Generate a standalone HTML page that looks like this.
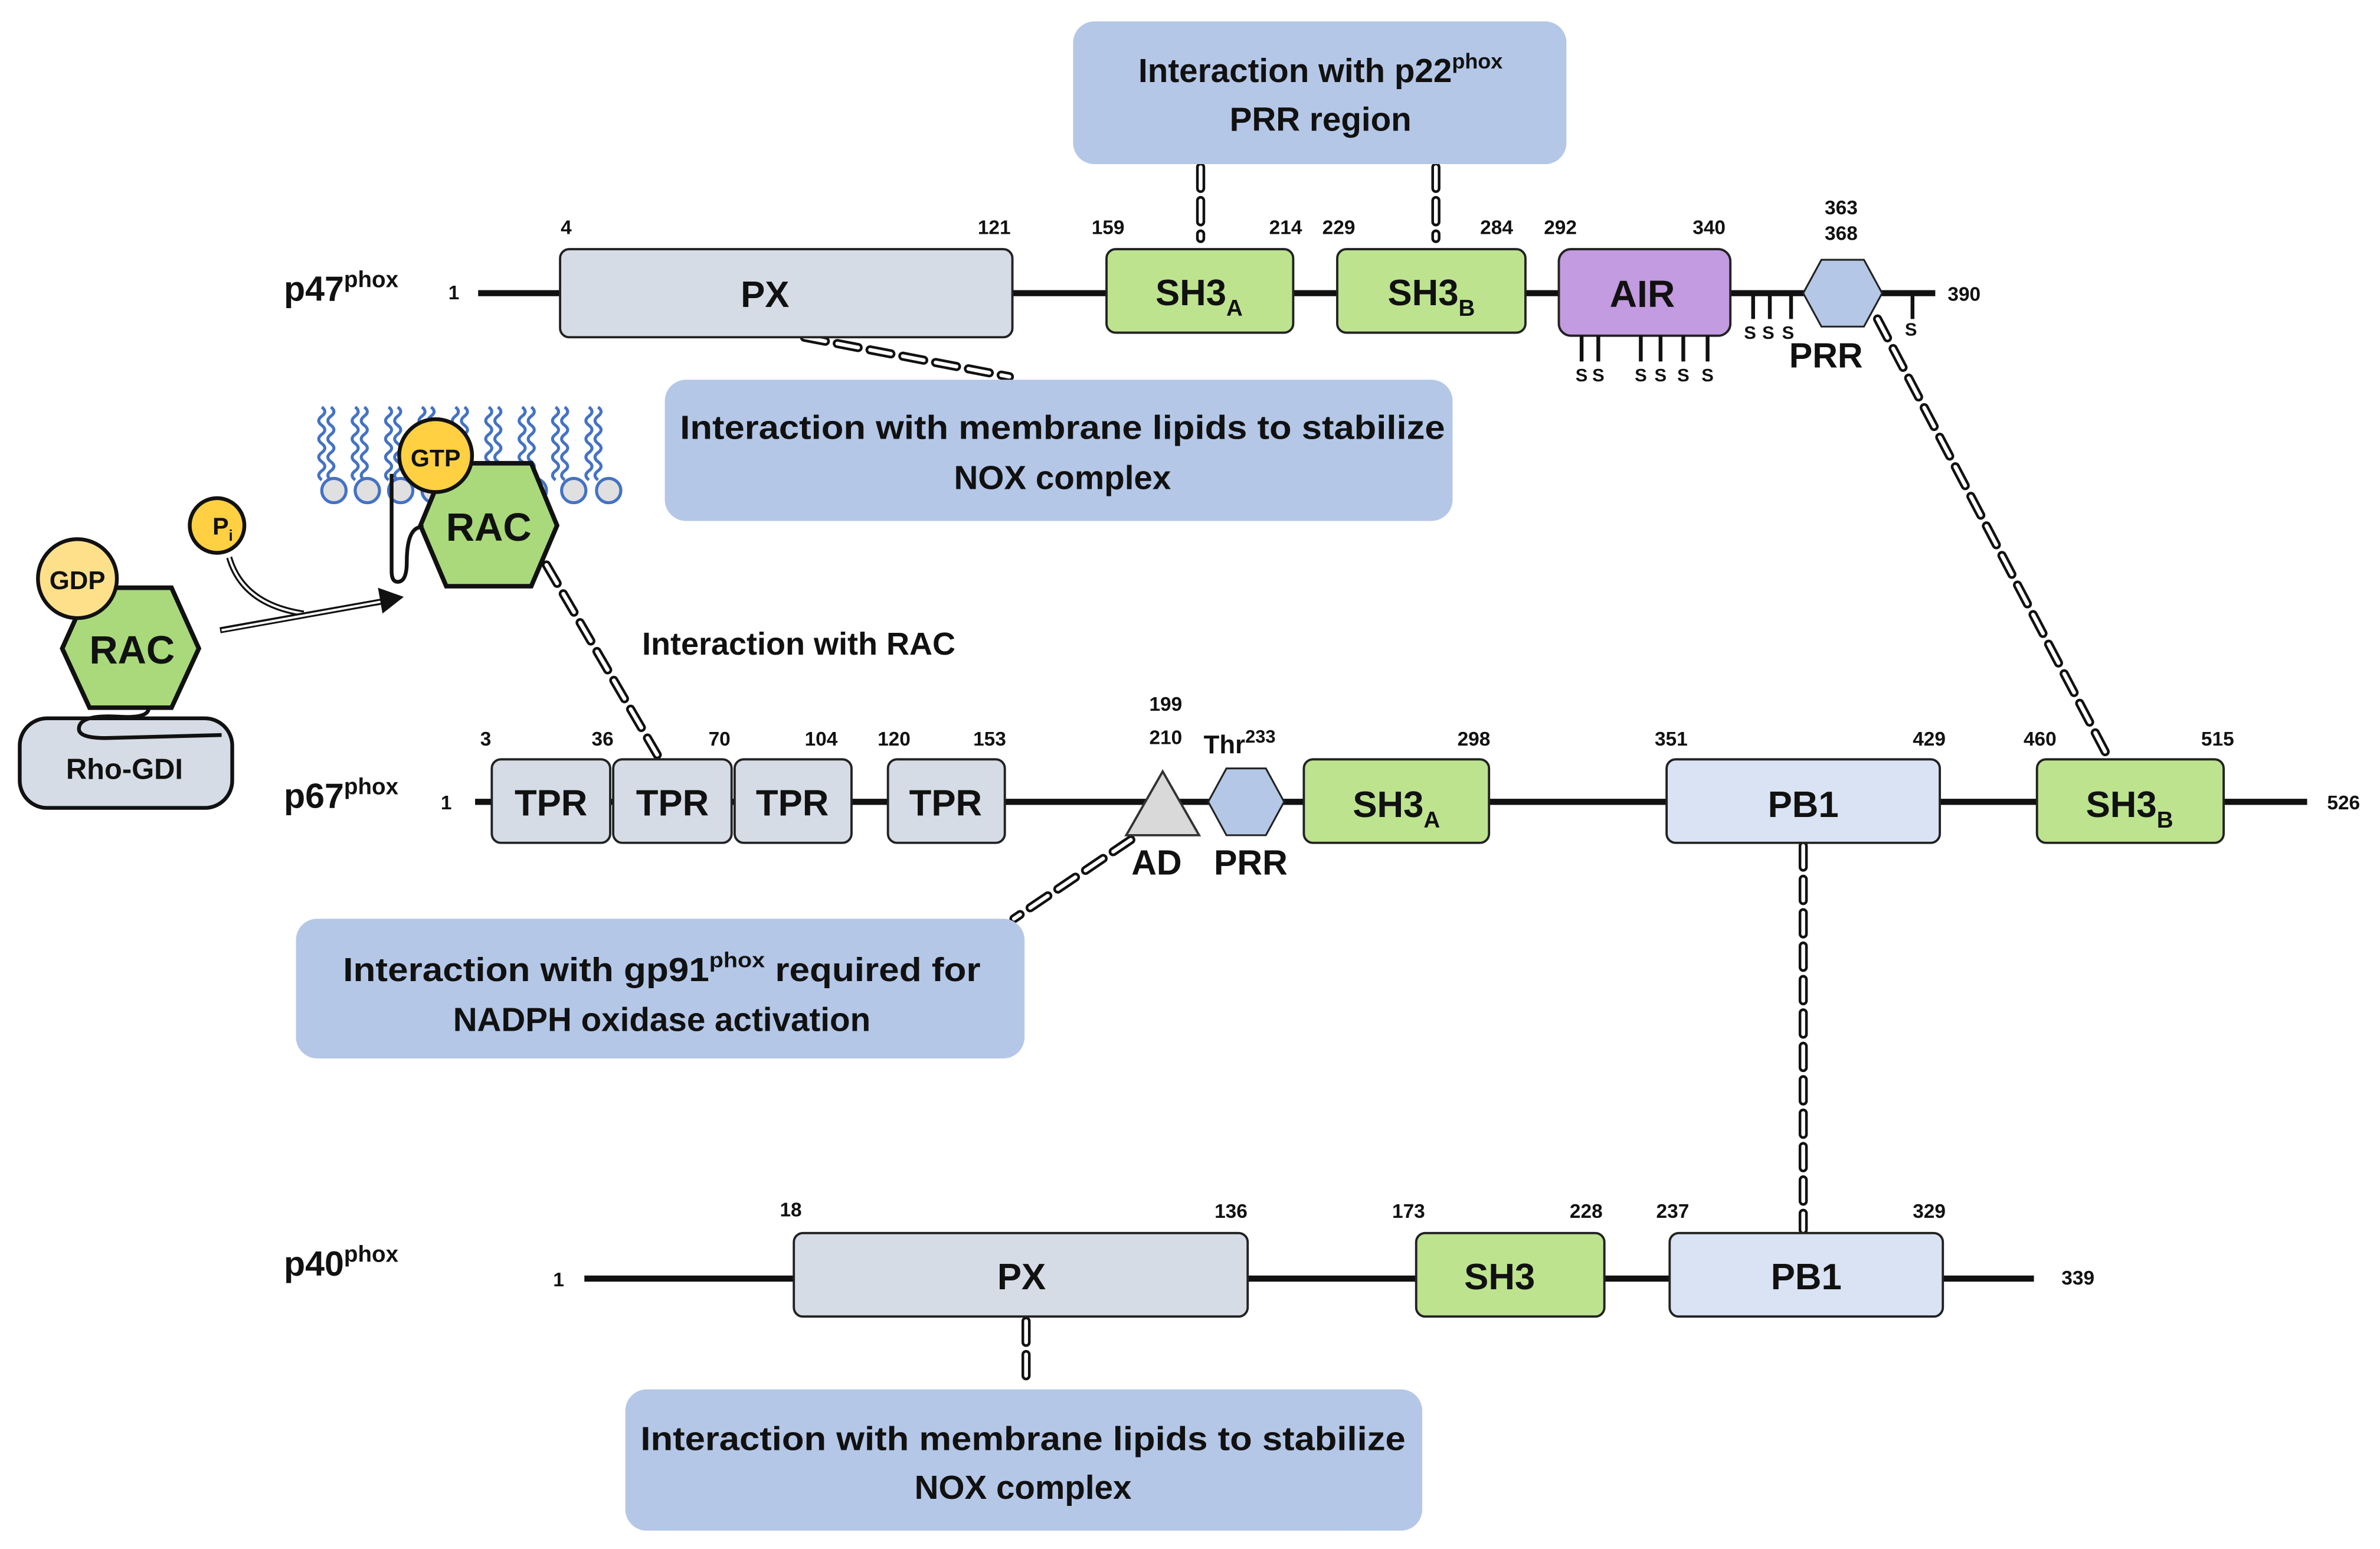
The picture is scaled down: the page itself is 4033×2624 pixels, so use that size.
<!DOCTYPE html>
<html><head><meta charset="utf-8"><style>
html,body{margin:0;padding:0;background:#fff;}
svg{display:block;}
text{font-family:"Liberation Sans",sans-serif;font-weight:bold;fill:#111;}
</style></head><body>
<svg width="4033" height="2624" viewBox="0 0 1568 1020" xmlns="http://www.w3.org/2000/svg">
<defs>
<g id="tail"><path d="M0 0 q4 3 0 6 q-4 3 0 6 q4 3 0 6 q-4 3 0 6 q4 3 0 6 q-4 3 0 6 q4 3 0 6 q-4 3 0 6" fill="none" stroke="#4472c4" stroke-width="2"/></g>
</defs>
<g id="dashes">
<g stroke="#111" stroke-width="6" stroke-dasharray="14 8" fill="none" stroke-linecap="round">
<line x1="791" y1="110" x2="791" y2="157"/>
<line x1="946" y1="110" x2="946" y2="157"/>
<line x1="530" y1="222" x2="665" y2="248"/>
<line x1="360" y1="372" x2="433" y2="497"/>
<line x1="1237" y1="210" x2="1388" y2="497"/>
<line x1="745" y1="553" x2="668" y2="605"/>
<line x1="1188" y1="557" x2="1188" y2="810"/>
<line x1="676" y1="870" x2="676" y2="913"/>
</g>
<g stroke="#fff" stroke-width="2.5" stroke-dasharray="14 8" fill="none" stroke-linecap="round">
<line x1="791" y1="110" x2="791" y2="157"/>
<line x1="946" y1="110" x2="946" y2="157"/>
<line x1="530" y1="222" x2="665" y2="248"/>
<line x1="360" y1="372" x2="433" y2="497"/>
<line x1="1237" y1="210" x2="1388" y2="497"/>
<line x1="745" y1="553" x2="668" y2="605"/>
<line x1="1188" y1="557" x2="1188" y2="810"/>
<line x1="676" y1="870" x2="676" y2="913"/>
</g>
</g>

<!-- callouts -->
<rect x="707" y="14" width="325" height="94" rx="14" fill="#b4c7e7"/>
<text x="870" y="54" font-size="22" text-anchor="middle">Interaction with p22<tspan font-size="14" dy="-9">phox</tspan></text>
<text x="870" y="86" font-size="22" text-anchor="middle">PRR region</text>
<rect x="438" y="250" width="519" height="93" rx="14" fill="#b4c7e7"/>
<text x="700" y="289" font-size="22" text-anchor="middle" textLength="504" lengthAdjust="spacingAndGlyphs">Interaction with membrane lipids to stabilize</text>
<text x="700" y="322" font-size="22" text-anchor="middle">NOX complex</text>
<rect x="195" y="605" width="480" height="92" rx="14" fill="#b4c7e7"/>
<text x="436" y="646" font-size="22" text-anchor="middle" textLength="420" lengthAdjust="spacingAndGlyphs">Interaction with gp91<tspan font-size="14" dy="-9">phox</tspan><tspan dy="9"> required for</tspan></text>
<text x="436" y="679" font-size="22" text-anchor="middle">NADPH oxidase activation</text>
<rect x="412" y="915" width="525" height="93" rx="14" fill="#b4c7e7"/>
<text x="674" y="955" font-size="22" text-anchor="middle" textLength="504" lengthAdjust="spacingAndGlyphs">Interaction with membrane lipids to stabilize</text>
<text x="674" y="987" font-size="22" text-anchor="middle">NOX complex</text>

<!-- p47 -->
<line x1="315" y1="193" x2="1275" y2="193" stroke="#111" stroke-width="4"/>
<text x="187" y="198" font-size="23">p47<tspan font-size="15" dy="-9">phox</tspan></text>
<text x="299" y="197" font-size="13" text-anchor="middle">1</text>
<rect x="369" y="164" width="298" height="58" rx="6" fill="#d6dce5" stroke="#222" stroke-width="1.5"/>
<text x="504" y="202" font-size="24" text-anchor="middle">PX</text>
<rect x="729" y="164" width="123" height="55" rx="6" fill="#bde38f" stroke="#222" stroke-width="1.5"/>
<text x="790" y="201" font-size="24" text-anchor="middle">SH3<tspan font-size="15" dy="7">A</tspan></text>
<rect x="881" y="164" width="124" height="55" rx="6" fill="#bde38f" stroke="#222" stroke-width="1.5"/>
<text x="943" y="201" font-size="24" text-anchor="middle">SH3<tspan font-size="15" dy="7">B</tspan></text>
<rect x="1027" y="164" width="113" height="57" rx="8" fill="#c39be0" stroke="#222" stroke-width="1.5"/>
<text x="1082" y="202" font-size="25" text-anchor="middle">AIR</text>
<polygon points="1188,193 1200,171 1228,171 1240,193 1228,215 1200,215" fill="#b4c7e7" stroke="#222" stroke-width="1.2"/>
<g stroke="#111" stroke-width="2.5">
<line x1="1042" y1="221" x2="1042" y2="238"/><line x1="1053" y1="221" x2="1053" y2="238"/>
<line x1="1081" y1="221" x2="1081" y2="238"/><line x1="1094" y1="221" x2="1094" y2="238"/>
<line x1="1109" y1="221" x2="1109" y2="238"/><line x1="1125" y1="221" x2="1125" y2="238"/>
<line x1="1155" y1="193" x2="1155" y2="210"/><line x1="1166" y1="193" x2="1166" y2="210"/><line x1="1180" y1="193" x2="1180" y2="210"/>
<line x1="1260" y1="193" x2="1260" y2="210"/>
</g>
<g font-size="12" text-anchor="middle">
<text x="1042" y="251">S</text><text x="1053" y="251">S</text><text x="1081" y="251">S</text><text x="1094" y="251">S</text><text x="1109" y="251">S</text><text x="1125" y="251">S</text>
<text x="1153" y="223">S</text><text x="1165" y="223">S</text><text x="1178" y="223">S</text><text x="1259" y="221">S</text>
</g>
<text x="1203" y="242" font-size="23" text-anchor="middle">PRR</text>
<g font-size="13" text-anchor="middle">
<text x="373" y="154">4</text><text x="655" y="154">121</text><text x="730" y="154">159</text><text x="847" y="154">214</text>
<text x="882" y="154">229</text><text x="986" y="154">284</text><text x="1028" y="154">292</text><text x="1126" y="154">340</text>
<text x="1213" y="141">363</text><text x="1213" y="158">368</text><text x="1294" y="198">390</text>
</g>

<!-- membrane -->
<g>
<use href="#tail" x="212" y="268"/><use href="#tail" x="218" y="268"/>
<use href="#tail" x="234" y="268"/><use href="#tail" x="240" y="268"/>
<use href="#tail" x="256" y="268"/><use href="#tail" x="262" y="268"/>
<use href="#tail" x="278" y="268"/><use href="#tail" x="284" y="268"/>
<use href="#tail" x="300" y="268"/><use href="#tail" x="306" y="268"/>
<use href="#tail" x="322" y="268"/><use href="#tail" x="328" y="268"/>
<use href="#tail" x="344" y="268"/><use href="#tail" x="350" y="268"/>
<use href="#tail" x="366" y="268"/><use href="#tail" x="372" y="268"/>
<use href="#tail" x="388" y="268"/><use href="#tail" x="394" y="268"/>
</g>
<g fill="#e0e0e0" stroke="#4472c4" stroke-width="2">
<circle cx="220" cy="323" r="8"/><circle cx="242" cy="323" r="8"/><circle cx="264" cy="323" r="8"/><circle cx="286" cy="323" r="8"/>
<circle cx="308" cy="323" r="8"/><circle cx="330" cy="323" r="8"/><circle cx="352" cy="323" r="8"/><circle cx="378" cy="323" r="8"/><circle cx="401" cy="323" r="8"/>
</g>
<polygon points="277,346 294,305 350,305 367,346 350,386 294,386" fill="#a9d97a" stroke="#111" stroke-width="3"/>
<text x="322" y="356" font-size="26" text-anchor="middle">RAC</text>
<circle cx="287" cy="300" r="24" fill="#ffd042" stroke="#111" stroke-width="2.5"/>
<text x="287" y="307" font-size="16" text-anchor="middle" font-weight="normal">GTP</text>
<path d="M258 312 L258 376 Q258 384 263 383 Q268 382 268 370 Q268 346 279 347" fill="none" stroke="#111" stroke-width="2.5"/>
<circle cx="143" cy="346" r="18" fill="#ffd042" stroke="#111" stroke-width="2.5"/>
<text x="140" y="352" font-size="16" font-weight="normal">P<tspan font-size="10" dy="4">i</tspan></text>
<path d="M151 367 Q160 398 200 404" fill="none" stroke="#111" stroke-width="4"/>
<path d="M151 367 Q160 398 200 404" fill="none" stroke="#fff" stroke-width="1.5"/>
<line x1="145" y1="415" x2="252" y2="396" stroke="#111" stroke-width="4"/>
<line x1="146" y1="415" x2="252" y2="396" stroke="#fff" stroke-width="1.5"/>
<polygon points="266,393 249,387 252,404" fill="#111"/>

<!-- left RAC -->
<rect x="13" y="473" width="140" height="59" rx="18" fill="#d6dce5" stroke="#111" stroke-width="2.5"/>
<text x="82" y="513" font-size="19" text-anchor="middle" font-weight="normal">Rho-GDI</text>
<path d="M98 466 Q98 473 80 472 Q52 470 52 480 Q52 486 70 486 L146 484" fill="none" stroke="#111" stroke-width="2.5"/>
<polygon points="41,427 59,387 113,387 131,427 113,466 59,466" fill="#a9d97a" stroke="#111" stroke-width="3"/>
<text x="87" y="437" font-size="26" text-anchor="middle">RAC</text>
<circle cx="51" cy="381" r="26" fill="#ffe08a" stroke="#111" stroke-width="2.5"/>
<text x="51" y="388" font-size="17" text-anchor="middle" font-weight="normal">GDP</text>

<text x="423" y="431" font-size="21">Interaction with RAC</text>

<!-- p67 -->
<line x1="313" y1="528" x2="1520" y2="528" stroke="#111" stroke-width="4"/>
<text x="187" y="532" font-size="23">p67<tspan font-size="15" dy="-9">phox</tspan></text>
<text x="294" y="533" font-size="13" text-anchor="middle">1</text>
<g fill="#d6dce5" stroke="#222" stroke-width="1.5">
<rect x="324" y="500" width="78" height="55" rx="6"/><rect x="404" y="500" width="78" height="55" rx="6"/>
<rect x="484" y="500" width="77" height="55" rx="6"/><rect x="585" y="500" width="77" height="55" rx="6"/>
</g>
<g font-size="24" text-anchor="middle">
<text x="363" y="537">TPR</text><text x="443" y="537">TPR</text><text x="522" y="537">TPR</text><text x="623" y="537">TPR</text>
</g>
<polygon points="766,508 790,550 742,550" fill="#d9d9d9" stroke="#333" stroke-width="1.5"/>
<text x="762" y="576" font-size="23" text-anchor="middle">AD</text>
<polygon points="796,528 808,506 834,506 846,528 834,550 808,550" fill="#b4c7e7" stroke="#222" stroke-width="1.2"/>
<text x="824" y="576" font-size="23" text-anchor="middle">PRR</text>
<text x="793" y="496" font-size="17">Thr<tspan font-size="12" dy="-7">233</tspan></text>
<rect x="859" y="500" width="122" height="55" rx="6" fill="#bde38f" stroke="#222" stroke-width="1.5"/>
<text x="920" y="538" font-size="24" text-anchor="middle">SH3<tspan font-size="15" dy="7">A</tspan></text>
<rect x="1098" y="500" width="180" height="55" rx="6" fill="#dae3f3" stroke="#222" stroke-width="1.5"/>
<text x="1188" y="538" font-size="24" text-anchor="middle">PB1</text>
<rect x="1342" y="500" width="123" height="55" rx="6" fill="#bde38f" stroke="#222" stroke-width="1.5"/>
<text x="1403" y="538" font-size="24" text-anchor="middle">SH3<tspan font-size="15" dy="7">B</tspan></text>
<g font-size="13" text-anchor="middle">
<text x="320" y="491">3</text><text x="397" y="491">36</text><text x="474" y="491">70</text><text x="541" y="491">104</text>
<text x="589" y="491">120</text><text x="652" y="491">153</text><text x="768" y="468">199</text><text x="768" y="490">210</text>
<text x="971" y="491">298</text><text x="1101" y="491">351</text><text x="1271" y="491">429</text>
<text x="1344" y="491">460</text><text x="1461" y="491">515</text><text x="1544" y="533">526</text>
</g>

<!-- p40 -->
<line x1="385" y1="842" x2="1340" y2="842" stroke="#111" stroke-width="4"/>
<text x="187" y="840" font-size="23">p40<tspan font-size="15" dy="-9">phox</tspan></text>
<text x="368" y="847" font-size="13" text-anchor="middle">1</text>
<rect x="523" y="812" width="299" height="55" rx="6" fill="#d6dce5" stroke="#222" stroke-width="1.5"/>
<text x="673" y="849" font-size="24" text-anchor="middle">PX</text>
<rect x="933" y="812" width="124" height="55" rx="6" fill="#bde38f" stroke="#222" stroke-width="1.5"/>
<text x="988" y="849" font-size="24" text-anchor="middle">SH3</text>
<rect x="1100" y="812" width="180" height="55" rx="6" fill="#dae3f3" stroke="#222" stroke-width="1.5"/>
<text x="1190" y="849" font-size="24" text-anchor="middle">PB1</text>
<g font-size="13" text-anchor="middle">
<text x="521" y="801">18</text><text x="811" y="802">136</text><text x="928" y="802">173</text><text x="1045" y="802">228</text>
<text x="1102" y="802">237</text><text x="1271" y="802">329</text><text x="1369" y="846">339</text>
</g>
</svg>
</body></html>
